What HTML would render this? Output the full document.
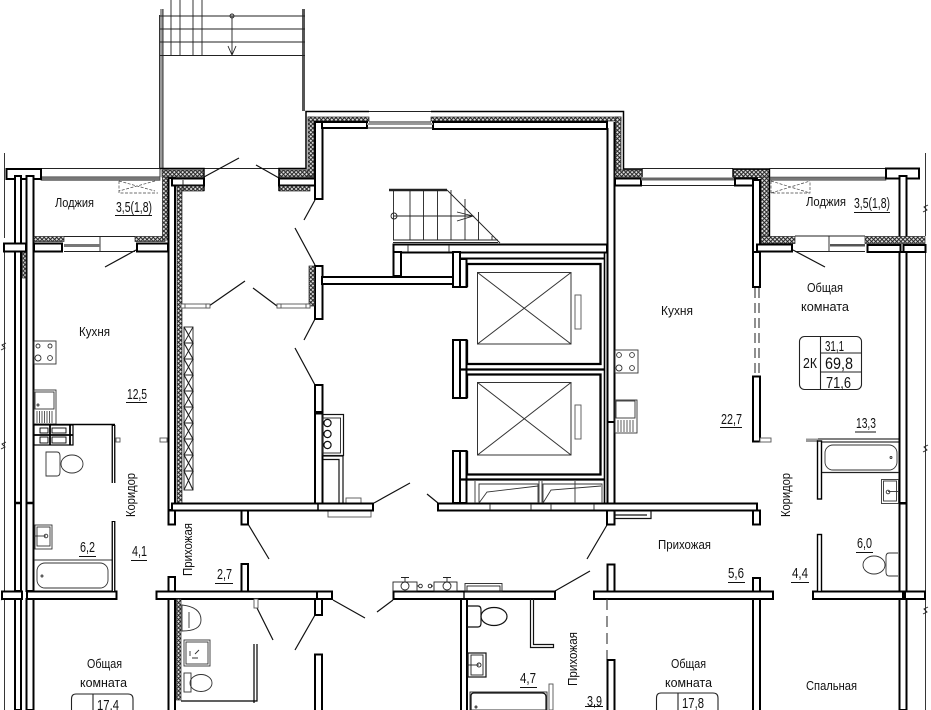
<!DOCTYPE html>
<html><head><meta charset="utf-8"><style>
html,body{margin:0;padding:0;background:#fff}
svg{display:block}
.w{fill:#fff;stroke:#000;stroke-width:2}
.i{fill:url(#hx);stroke:#222;stroke-width:.7}
.t{fill:none;stroke:#222;stroke-width:.9}
.m{fill:none;stroke:#111;stroke-width:1.2}
.g{fill:#fff;stroke:#555;stroke-width:.9}
.d{fill:none;stroke:#111;stroke-width:1.2}
text{font-family:"Liberation Sans",sans-serif;font-size:13px;fill:#111}
</style></head><body>
<svg width="931" height="710" viewBox="0 0 931 710" xmlns="http://www.w3.org/2000/svg">
<defs>
<pattern id="hx" width="4.2" height="4.2" patternUnits="userSpaceOnUse"><rect width="4.2" height="4.2" fill="#e4e4e4"/><path d="M0 0L4.2 4.2M4.2 0L0 4.200" stroke="#222" stroke-width="1.050"/></pattern>
</defs>
<rect width="931" height="710" fill="#fff"/>

<!-- external thin lines -->
<path class="t" d="M4.500 153V238M4.500 252V591M4.500 599V710M925.500 153V236M925.500 252V591M925.500 599V710"/>
<path class="t" d="M1 350l4 -2 -3 -3 4 -2M1 449l4 -2 -3 -3 4 -2M1 600l4 -2 -3 -3 4 -2M923 212l4 -2 -3 -3 4 -2M923 452l4 -2 -3 -3 4 -2M923 614l4 -2 -3 -3 4 -2"/>

<!-- external stair -->
<rect x="160" y="9" width="3" height="160" fill="#999"/>
<path d="M159.500 15V169M163 9V169" stroke="#333" stroke-width="1" fill="none"/>
<rect x="302" y="9" width="3" height="102" fill="#555"/>
<path class="t" d="M160 16H305M160 29H305M160 42H305M160 55.500H305M171 0V55M180 0V55M193 0V55M202 0V55M232 16V55M228 46L232 55L236 46"/>
<circle cx="232" cy="16" r="2" class="t"/>

<!-- left loggia -->
<path class="t" d="M41 168.500H279M160 169V177"/>
<rect x="41" y="176.800" width="119" height="3.500" fill="#777" stroke="#333" stroke-width=".6"/>
<rect class="w" x="6.500" y="169" width="34.500" height="10"/>
<path d="M119 181V193H158M119 181l36 10M155 181l-36 10" fill="none" stroke="#444" stroke-width=".7" stroke-dasharray="3 1.500"/>

<!-- left outer walls -->
<rect class="w" x="15" y="176" width="6" height="415"/>
<rect class="w" x="26.500" y="176" width="7" height="415"/>
<rect class="i" x="22.500" y="252" width="3.500" height="26"/>
<rect class="w" x="15" y="599" width="6" height="111"/>
<rect class="w" x="26.500" y="599" width="7" height="111"/>
<path d="M15 503H21M26 503H34" stroke="#000" stroke-width="2.400"/>

<!-- left loggia wall row -->
<rect class="i" x="34" y="236.500" width="30" height="5"/>
<rect class="w" x="34" y="243.500" width="28" height="8"/>
<rect class="w" x="4" y="243.500" width="22" height="8"/>
<rect class="i" x="135" y="236.500" width="30" height="5"/>
<rect class="w" x="137" y="243.500" width="31" height="8"/>
<path class="t" d="M64 236.500H135M64 251.500H135M100 236.500V251.500"/>
<rect x="64" y="244" width="36" height="3" fill="#777"/>
<line class="d" x1="136" y1="250" x2="105" y2="267"/>

<!-- left entry walls + insulation -->
<rect class="i" x="162.500" y="170" width="6" height="70"/>
<rect class="w" x="168.500" y="178" width="6.500" height="332"/>
<rect class="i" x="177" y="188" width="5" height="315"/>
<rect class="i" x="162" y="170" width="42" height="7"/>
<rect class="w" x="172" y="178.500" width="32" height="7"/>
<rect class="i" x="177" y="186" width="27" height="5"/>
<path class="t" d="M160 168.500H204M183 191V180"/>
<path d="M160 168.500H204V191" fill="none" stroke="#000" stroke-width="1.400"/>
<line class="d" x1="204" y1="177" x2="239" y2="158"/>
<line class="d" x1="256" y1="165" x2="279" y2="178"/>
<rect class="i" x="279" y="170" width="35" height="7"/>
<rect class="w" x="279" y="178.500" width="37" height="7"/>
<rect class="i" x="279" y="186" width="31" height="5"/>
<path d="M279 191V168.500H306V111.500H369" fill="none" stroke="#000" stroke-width="1.500"/>

<!-- zigzag vent -->
<g fill="#fff" stroke="#222" stroke-width=".9">
<rect x="184" y="327" width="9" height="163"/>
<path d="M184 327L193 343L184 343L193 359L184 359L193 375L184 375L193 391L184 391L193 407L184 407L193 423L184 423L193 439L184 439L193 455L184 455L193 471L184 471L193 490" fill="none" stroke-width="1.100"/>
<path d="M193 327L184 343M193 343L184 359M193 359L184 375M193 375L184 391M193 391L184 407M193 407L184 423M193 423L184 439M193 439L184 455M193 455L184 471M193 471L184 490"/>
</g>

<!-- top block -->
<path d="M431 111.500H623.500V169H642V177" fill="none" stroke="#000" stroke-width="1.500"/>
<rect class="i" x="308" y="117" width="6" height="59"/>
<rect class="i" x="308" y="117" width="61" height="4"/>
<rect class="i" x="431" y="117" width="190" height="4"/>
<rect class="w" x="315" y="122" width="7.500" height="77"/>
<rect class="w" x="322" y="122" width="45" height="6"/>
<rect class="w" x="433" y="122" width="174" height="7"/>
<path class="t" d="M369 111.500H431M369 122H431M367 128H433"/>
<rect x="367" y="123" width="66" height="2" fill="#999"/>

<!-- door lines center -->
<path class="d" d="M315 200L304 220M295 228L315 265M209 306L245 281M277 306L253 288M315 319L304 340M295 348L315 385M374 503L410 483M427 494L438 503M248 524L269 559M315 615L295 650M257 608L273 640M333 600L365 618M377 612L393 600M555 591L590 571M607 525L587 559"/>

<!-- mid walls -->
<rect class="w" x="315" y="266" width="7.500" height="53"/>
<rect class="i" x="309" y="266" width="5.500" height="40"/>
<rect class="w" x="322" y="277" width="131" height="7"/>
<rect class="g" x="182" y="304" width="27" height="4"/>
<rect class="g" x="277" y="304" width="33" height="4"/>
<rect class="g" x="181" y="304" width="4" height="4"/><rect class="g" x="206" y="304" width="4" height="4"/>
<rect class="g" x="277" y="304" width="4" height="4"/><rect class="g" x="306" y="304" width="4" height="4"/>
<rect class="w" x="315" y="385" width="7.500" height="27"/>
<rect class="w" x="315" y="413.500" width="7.500" height="90"/>
<rect class="m" x="322.500" y="414.500" width="21" height="41"/>
<rect class="t" x="322.500" y="418" width="18" height="35"/>
<circle class="m" cx="327.500" cy="423" r="3.600"/><circle class="m" cx="327.500" cy="434" r="3.600"/><circle class="m" cx="327.500" cy="445" r="3.600"/>
<path class="m" d="M323 456H343V503M323 459.500H339V503" stroke-width="1.500"/>
<rect class="g" x="346" y="498" width="15" height="5"/>
<rect class="g" x="328" y="511" width="43" height="6"/>

<!-- corridor wall -->
<rect class="w" x="172" y="503.500" width="201" height="7"/>
<path d="M318 503V510" stroke="#000" stroke-width="1.500"/>
<rect class="w" x="438" y="503.500" width="319" height="7"/>
<path class="t" d="M490 504V510M531 504V510M551 504V510M594 504V510"/>
<rect class="w" x="168.500" y="510.500" width="6.500" height="14"/>
<rect class="w" x="241.500" y="510.500" width="6.500" height="14"/>
<rect class="w" x="607" y="510.500" width="7.500" height="14"/>
<path class="m" d="M615 510.500V518.500H651V510.500M615 515H647"/>
<rect class="w" x="753" y="510.500" width="7" height="14"/>

<!-- stairs inside -->
<path d="M389 190H447" stroke="#222" stroke-width="2.400"/>
<path class="t" d="M393.500 190V240M410 190V240M423.500 190V240M437.500 190V240M451 190V240M465 199V240M478.500 212V240M492 236V240M447 190L500 243M394 216H473M457 212L473 216L457 221M393 240H498M393 242.500H498"/>
<circle class="t" cx="394" cy="216" r="3"/>

<!-- core -->
<rect class="w" x="393.500" y="244.500" width="213.500" height="8"/>
<path class="t" d="M408 245V252M449 245V252"/>
<rect class="w" x="393.500" y="252" width="7.500" height="24"/>
<rect class="w" x="453" y="252" width="7" height="35"/>
<rect class="w" x="460" y="259" width="6.500" height="28"/>
<path d="M460 258.500H605" stroke="#000" stroke-width="2" fill="none"/>
<path d="M467 287V264H600.500V364H467V340" fill="none" stroke="#000" stroke-width="2.300"/>
<rect class="w" x="453" y="340" width="7" height="58"/>
<rect class="w" x="460" y="340" width="6.500" height="58"/>
<path d="M460.500 369.500H605" stroke="#000" stroke-width="2.200"/>
<path d="M467 398V374.500H600.500V474.500H467V451" fill="none" stroke="#000" stroke-width="2.300"/>
<rect class="w" x="453" y="451" width="7" height="52"/>
<rect class="w" x="460" y="451" width="6.500" height="52"/>
<path d="M460.500 479.500H605" stroke="#000" stroke-width="2.200"/>
<path d="M607.500 128V503M614.500 122V503" stroke="#000" stroke-width="2" fill="none"/>
<path d="M604.500 252V503" stroke="#000" stroke-width="1.600" fill="none"/>
<path d="M607 422H615" stroke="#000" stroke-width="2"/>

<!-- lift cars -->
<g fill="none" stroke="#333" stroke-width="1">
<rect x="477.500" y="272.500" width="93.500" height="71.500"/><path d="M477.500 272.500L571 344M571 272.500L477.500 344"/>
<rect x="477.500" y="382.500" width="93.500" height="72.500"/><path d="M477.500 382.500L571 455M571 382.500L477.500 455"/>
</g>
<rect class="g" x="575" y="295" width="6" height="34"/>
<rect class="g" x="575" y="405" width="6" height="34"/>
<!-- lift pit -->
<g fill="none" stroke="#333" stroke-width=".9">
<path d="M475 481V503M539 481V503M542 481V503M575 481V503"/>
<path d="M479 503V484H538V503M543 503V484H602V503"/>
<path d="M479 503L487 492L538 486M543 503L551 490L601 486"/>
</g>

<!-- insulation top-right -->
<rect class="i" x="615.500" y="117" width="5.500" height="53"/>
<rect class="i" x="615" y="170" width="27" height="7"/>
<rect class="w" x="615" y="178.500" width="26" height="7"/>
<path class="t" d="M642 168.500H733M642 185.500H735"/>
<rect x="641" y="177.500" width="93" height="3" fill="#666"/>

<!-- right loggia -->
<rect class="i" x="733" y="169.500" width="36" height="8"/>
<rect class="w" x="735" y="178.500" width="22" height="7"/>
<rect class="i" x="761" y="177" width="8" height="59"/>
<rect class="w" x="753" y="180" width="7" height="72"/>
<path d="M733 177V169H769.500V236" fill="none" stroke="#000" stroke-width="1.400"/>
<path class="t" d="M769 168.500H886"/>
<rect x="770" y="177" width="116" height="3.300" fill="#777" stroke="#333" stroke-width=".5"/>
<path d="M771 181V193H810V181M771 193L810 181M771 181L810 193" fill="none" stroke="#444" stroke-width=".7" stroke-dasharray="3 1.500"/>
<rect class="w" x="886" y="168.500" width="33" height="10"/>
<rect class="w" x="899.500" y="176" width="7" height="64"/>
<rect class="i" x="761" y="236.500" width="34" height="7"/>
<rect class="w" x="757" y="244.500" width="35" height="7"/>
<rect class="i" x="865" y="236.500" width="60" height="7"/>
<rect class="w" x="867.500" y="245" width="33" height="7"/>
<rect class="w" x="903.500" y="245" width="22" height="7"/>
<path class="t" d="M795 236H865M795 251.500H865M829 236V251.500"/>
<rect x="830" y="244" width="35" height="2.500" fill="#555"/>
<line class="d" x1="793" y1="250" x2="825" y2="267"/>
<rect class="w" x="753" y="252" width="7" height="35"/>
<path d="M755 288V375M759 288V375" stroke="#333" stroke-width="1.100" stroke-dasharray="10 5" fill="none"/>
<rect class="w" x="753" y="376.500" width="7" height="65"/>
<rect class="g" x="760" y="438" width="11" height="4"/>
<rect class="w" x="899.500" y="252" width="7" height="251"/>
<rect class="w" x="899.500" y="503.500" width="7" height="88"/>
<rect class="w" x="899.500" y="599" width="7" height="111"/>

<!-- central lower walls -->
<rect class="w" x="156.500" y="591.500" width="161" height="7.500"/>
<rect class="w" x="168.500" y="577" width="6.500" height="14.500"/>
<rect class="w" x="241.500" y="564" width="6.500" height="27.500"/>
<rect class="w" x="317" y="591.500" width="15" height="7.500"/>
<rect class="w" x="315" y="599" width="7" height="16"/>
<rect class="w" x="315" y="654.500" width="7" height="60"/>
<rect class="w" x="168.500" y="599" width="6.500" height="115"/>
<rect class="i" x="176.500" y="599" width="4.500" height="101"/>
<path d="M181 701H257V644M254 644V703" stroke="#000" stroke-width="1.200" fill="none"/>
<rect class="g" x="254" y="599" width="4" height="9"/>

<rect class="w" x="393.500" y="591.500" width="161.500" height="7.500"/>
<rect class="w" x="461" y="599" width="6" height="115"/>
<path d="M464 592V599" stroke="#000" stroke-width="1.300"/>
<rect class="w" x="594" y="591.500" width="179" height="7.500"/>
<rect class="w" x="607.500" y="564.500" width="7" height="27"/>
<path d="M607 599V660" stroke="#333" stroke-width="1.100" stroke-dasharray="11 6"/>
<rect class="w" x="607.500" y="660" width="7" height="55"/>
<rect class="w" x="753" y="578" width="7" height="13.500"/>
<rect class="w" x="753" y="599" width="7" height="115"/>
<rect class="w" x="813" y="591.500" width="90" height="7.500"/>
<rect class="w" x="905" y="591.500" width="20" height="7.500"/>
<rect class="w" x="2" y="591.500" width="20" height="7.500"/>
<rect class="w" x="27" y="591.500" width="89.500" height="7.500"/>

<!-- center toilet niche -->
<path class="m" d="M530.500 599V647.500H553.500V644.500H533.500V599"/>
<path class="m" d="M467 606H478Q481 606 481 610V623Q481 627 478 627H467" stroke-width=".8"/>
<ellipse class="m" cx="494" cy="616.500" rx="13" ry="9" stroke-width=".8"/>
<rect class="m" x="468" y="653" width="18" height="24" stroke-width=".9"/>
<rect class="t" x="471" y="655" width="12" height="20"/>
<path class="t" d="M467 665H479"/><circle class="t" cx="479" cy="665" r="2"/>
<path class="m" d="M471 710V696Q471 693 474 693H542Q546 693 546 697V710" stroke-width=".9"/>
<rect class="t" x="470" y="692" width="77" height="18"/>
<circle class="t" cx="476" cy="707" r="1"/>
<rect class="g" x="549" y="684" width="4" height="26"/>

<!-- taps -->
<g fill="none" stroke="#222" stroke-width=".9">
<rect x="393" y="582" width="24" height="9"/><circle cx="405" cy="586" r="4"/><path d="M401 577.500H409M405 578V582M417 586H419"/><circle cx="420.500" cy="586" r="1.800"/>
<rect x="434" y="582" width="23" height="9"/><circle cx="447" cy="586" r="4"/><path d="M443 577.500H451M447 578V582M433 586H431"/><circle cx="430" cy="586" r="1.800"/>
<rect x="465" y="583.500" width="37" height="8"/><rect x="467" y="586" width="33" height="5.500"/>
</g>

<!-- left flat kitchen appliances -->
<g fill="none" stroke="#333" stroke-width=".9">
<rect x="34" y="341" width="22" height="23"/>
<circle cx="38" cy="346" r="2"/><circle cx="50" cy="346" r="2"/><circle cx="38" cy="358" r="3"/><circle cx="50" cy="358" r="2.400"/>
<rect x="34" y="390" width="22" height="34"/>
<rect x="35" y="392" width="19" height="17"/><circle cx="38" cy="405" r="1"/>
<path d="M37 411V423M39.500 411V423M42 411V423M44.500 411V423M47 411V423M49.500 411V423M52 411V423" stroke-width=".8"/>
</g>
<path d="M34 424.500H115" fill="none" stroke="#000" stroke-width="1.400"/>
<rect class="g" x="116" y="438" width="4" height="4"/>
<rect class="g" x="160" y="438" width="7" height="4"/>
<rect x="34" y="425" width="39" height="20" fill="#fff" stroke="#000" stroke-width="1.200"/>
<path d="M34 435H73M50 425V445M70 425V445" stroke="#000" stroke-width="1.800" fill="none"/>
<rect x="40" y="428" width="8" height="5" fill="#fff" stroke="#000" stroke-width=".9"/><rect x="52" y="428" width="14" height="5" fill="#fff" stroke="#000" stroke-width=".9"/>
<rect x="40" y="437" width="8" height="6" fill="#fff" stroke="#000" stroke-width=".9"/><rect x="52" y="437" width="14" height="6" fill="#fff" stroke="#000" stroke-width=".9"/>
<g fill="none" stroke="#333" stroke-width=".9">
<path d="M46 452H57Q60 452 60 456V472Q60 476 57 476H46Z"/>
<ellipse cx="72" cy="464" rx="11" ry="9"/>
<rect x="35" y="525" width="17" height="24"/><rect x="37" y="527" width="13" height="19"/>
<path d="M34 536H46"/><circle cx="46" cy="536" r="1.800"/>
<path d="M34 560H112"/>
<rect x="37" y="563" width="71" height="25" rx="8"/><circle cx="42" cy="576" r="1"/>
</g>
<path d="M113.500 521V591" stroke="#000" stroke-width="3.800"/><path d="M113.500 522V591" stroke="#fff" stroke-width="1.200"/>
<path d="M113.500 425V483" stroke="#000" stroke-width="3.800"/><path d="M113.500 426V483" stroke="#fff" stroke-width="1.200"/>

<!-- lower left bath -->
<g fill="none" stroke="#333" stroke-width=".9">
<path d="M182 605Q201 607 201 620Q201 631 182 631Z"/><path d="M189 612V628"/>
<rect x="184" y="640" width="26" height="26"/><rect x="186" y="642" width="22" height="22"/>
<path d="M190 651V656M192 658H198M199 650L195 654"/>
<rect x="184" y="673" width="7" height="19"/><ellipse cx="201" cy="683" rx="11" ry="8.500"/>
</g>

<!-- right flat fixtures -->
<g fill="none" stroke="#333" stroke-width=".9">
<rect x="615" y="350" width="23" height="23"/>
<circle cx="619" cy="355" r="2.400"/><circle cx="632" cy="355" r="2.400"/><circle cx="619" cy="368" r="3"/><circle cx="632" cy="368" r="2.400"/>
<rect x="615" y="400" width="22" height="33"/><rect x="616" y="401" width="19" height="17"/>
<path d="M618 420V432M621 420V432M624 420V432M627 420V432M630 420V432M633 420V432" stroke-width=".8"/>
<rect x="825" y="445" width="72" height="25" rx="8"/><circle cx="891" cy="457.500" r="1"/>
<rect x="881.500" y="479.500" width="17" height="24"/><rect x="883.500" y="481" width="13" height="20"/>
<path d="M888 491.500H899"/><circle cx="888" cy="492" r="1.800"/>
<path d="M898 553H889Q886 553 886 557V572Q886 576 889 576H898"/>
<ellipse cx="874" cy="565" rx="11" ry="9"/>
</g>
<path d="M817 439H899M817 442H899" stroke="#000" stroke-width="1.100"/>
<rect x="806" y="438.500" width="12" height="3.500" fill="#999"/>
<rect class="w" x="817.500" y="441" width="4" height="58" style="stroke-width:1.400"/>
<path d="M822 472.500H899" stroke="#222" stroke-width="1.200"/>
<rect class="w" x="817.500" y="534.500" width="4" height="57" style="stroke-width:1.400"/>

<!-- tables -->
<g fill="none" stroke="#222" stroke-width="1.100">
<rect x="799.500" y="336.500" width="62" height="53" rx="5"/>
<path d="M820.500 336.500V389.500M820.500 353H861.500M820.500 372H861.500"/>
<path d="M71.500 716V699Q71.500 694 76 694H128Q133 694 133 699V716M93 694V716"/>
<path d="M656.500 716V698Q656.500 693 661 693H713Q718 693 718 698V716M678 693V716"/>
</g>

<!-- underlines -->
<path stroke="#111" stroke-width="1.100" fill="none" d="M115 215.500H152M854 212.500H890M126 402.500H147M79 556.500H96M131 560.500H147M215 583.500H233M720 427.500H742M855 432H876M856 552.500H873M791 582.500H809M728 582.500H745M520 687.500H537M585 706.500H603"/>

<!-- labels -->
<text x="55" y="207" textLength="39" lengthAdjust="spacingAndGlyphs">Лоджия</text>
<text x="116" y="212" textLength="36" lengthAdjust="spacingAndGlyphs" style="font-size:15px">3,5(1,8)</text>
<text x="806" y="206" textLength="40" lengthAdjust="spacingAndGlyphs">Лоджия</text>
<text x="854" y="208" textLength="36" lengthAdjust="spacingAndGlyphs" style="font-size:15px">3,5(1,8)</text>
<text x="79" y="336" textLength="31" lengthAdjust="spacingAndGlyphs">Кухня</text>
<text x="661" y="315" textLength="32" lengthAdjust="spacingAndGlyphs">Кухня</text>
<text x="127" y="399" textLength="20" lengthAdjust="spacingAndGlyphs" style="font-size:15px">12,5</text>
<text x="80" y="552" textLength="15" lengthAdjust="spacingAndGlyphs" style="font-size:15px">6,2</text>
<text x="132" y="556" textLength="15" lengthAdjust="spacingAndGlyphs" style="font-size:15px">4,1</text>
<text x="217" y="579" textLength="15" lengthAdjust="spacingAndGlyphs" style="font-size:15px">2,7</text>
<text x="721" y="424" textLength="21" lengthAdjust="spacingAndGlyphs" style="font-size:15px">22,7</text>
<text x="856" y="428" textLength="20" lengthAdjust="spacingAndGlyphs" style="font-size:15px">13,3</text>
<text x="857" y="548" textLength="15" lengthAdjust="spacingAndGlyphs" style="font-size:15px">6,0</text>
<text x="792" y="578" textLength="16" lengthAdjust="spacingAndGlyphs" style="font-size:15px">4,4</text>
<text x="728" y="578" textLength="16" lengthAdjust="spacingAndGlyphs" style="font-size:15px">5,6</text>
<text x="520" y="683" textLength="16" lengthAdjust="spacingAndGlyphs" style="font-size:15px">4,7</text>
<text x="587" y="706" textLength="15" lengthAdjust="spacingAndGlyphs" style="font-size:15px">3,9</text>
<text x="807" y="292" textLength="36" lengthAdjust="spacingAndGlyphs">Общая</text>
<text x="801" y="311" textLength="48" lengthAdjust="spacingAndGlyphs">комната</text>
<text x="87" y="668" textLength="35" lengthAdjust="spacingAndGlyphs">Общая</text>
<text x="80" y="687" textLength="47" lengthAdjust="spacingAndGlyphs">комната</text>
<text x="671" y="668" textLength="35" lengthAdjust="spacingAndGlyphs">Общая</text>
<text x="665" y="687" textLength="47" lengthAdjust="spacingAndGlyphs">комната</text>
<text x="806" y="690" textLength="51" lengthAdjust="spacingAndGlyphs">Спальная</text>
<text x="658" y="549" textLength="53" lengthAdjust="spacingAndGlyphs">Прихожая</text>
<text transform="translate(135,517) rotate(-90)" textLength="44" lengthAdjust="spacingAndGlyphs">Коридор</text>
<text transform="translate(790,517) rotate(-90)" textLength="44" lengthAdjust="spacingAndGlyphs">Коридор</text>
<text transform="translate(192,576) rotate(-90)" textLength="53" lengthAdjust="spacingAndGlyphs">Прихожая</text>
<text transform="translate(577,686) rotate(-90)" textLength="54" lengthAdjust="spacingAndGlyphs">Прихожая</text>
<text x="803" y="368" textLength="14" lengthAdjust="spacingAndGlyphs" style="font-size:15px">2К</text>
<text x="825" y="351" textLength="19" lengthAdjust="spacingAndGlyphs" style="font-size:15px">31,1</text>
<text x="825" y="369" textLength="28" lengthAdjust="spacingAndGlyphs" style="font-size:17px">69,8</text>
<text x="826" y="388" textLength="25" lengthAdjust="spacingAndGlyphs" style="font-size:16px">71,6</text>
<text x="97" y="710" textLength="22" lengthAdjust="spacingAndGlyphs" style="font-size:15px">17,4</text>
<text x="682" y="708" textLength="22" lengthAdjust="spacingAndGlyphs" style="font-size:15px">17,8</text>
</svg>
</body></html>
